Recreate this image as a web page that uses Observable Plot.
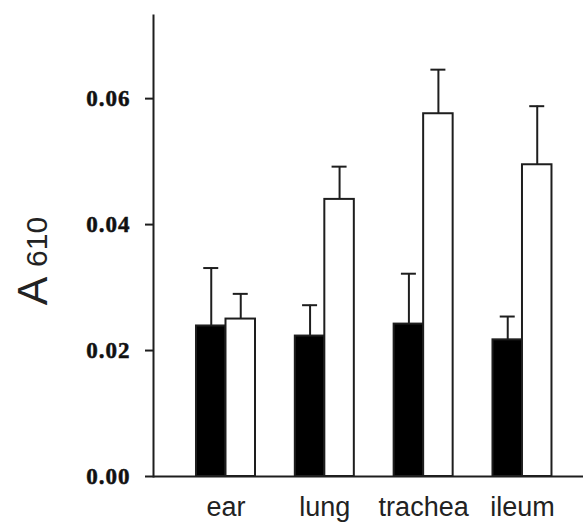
<!DOCTYPE html>
<html><head><meta charset="utf-8">
<script src="https://cdn.jsdelivr.net/npm/d3@7"></script>
<script src="https://cdn.jsdelivr.net/npm/@observablehq/plot@0.6"></script>
<style>
body{margin:0;background:#fff}
svg g[aria-label^="y-axis tick"] path, svg g[aria-label^="y-axis tick"] line,
svg [aria-label="frame"], svg g[aria-label="frame"] * , svg g[aria-label^="y-axis"] .domain {stroke-width: 2px !important; stroke: #1e1e1e !important;}
</style>
</head><body><div id="chart"></div>
<script>
const categories = ["ear", "lung", "trachea", "ileum"];
const controlMeans = [0.0239, 0.0223, 0.0242, 0.0217];
const controlErrors = [0.0092, 0.0049, 0.0080, 0.0037];
const treatedMeans = [0.0250, 0.0440, 0.0576, 0.0495];
const treatedErrors = [0.0040, 0.0052, 0.0070, 0.0093];
const yTicks = [0, 0.02, 0.04, 0.06];
const yLabelMain = "A ";
const yLabelSub = "610";

const rows = categories.map((c, i) => ({
  category: c,
  control: controlMeans[i], controlTop: controlMeans[i] + controlErrors[i],
  treated: treatedMeans[i], treatedTop: treatedMeans[i] + treatedErrors[i]
}));

const W = 583, H = 523, ML = 153, MR = 0, MT = 15, MB = 47;
const xOpts = {type: "band", domain: categories, paddingInner: 0.403, paddingOuter: 0.377, align: 0.577, round: false};
const xs = Plot.scale({x: {...xOpts, range: [ML, W - MR]}});
const bw = xs.bandwidth;
const half = bw / 2;
const capW = 15;
const capInset = (bw - capW) / 2;
const ink = "#1e1e1e";

const chart = Plot.plot({
  width: W, height: H,
  marginLeft: ML, marginRight: MR, marginTop: MT, marginBottom: MB,
  style: {background: "#fff", color: ink},
  x: {...xOpts, label: null, tickSize: 0, tickPadding: 20},
  y: {domain: [0, 0.0732], ticks: yTicks, tickFormat: d3.format(".2f"), tickSize: 8, tickPadding: 15, label: null, line: true},
  marks: [
    Plot.barY(rows, {x: "category", y: "control", fill: "black", stroke: ink, strokeWidth: 2, insetRight: half}),
    Plot.barY(rows, {x: "category", y: "treated", fill: "white", stroke: ink, strokeWidth: 2, insetLeft: half}),
    Plot.ruleX(rows, {x: "category", y1: "control", y2: "controlTop", dx: -bw / 4, stroke: ink, strokeWidth: 2}),
    Plot.tickY(rows, {x: "category", y: "controlTop", dx: -bw / 4, insetLeft: capInset, insetRight: capInset, stroke: ink, strokeWidth: 2}),
    Plot.ruleX(rows, {x: "category", y1: "treated", y2: "treatedTop", dx: bw / 4, stroke: ink, strokeWidth: 2}),
    Plot.tickY(rows, {x: "category", y: "treatedTop", dx: bw / 4, insetLeft: capInset, insetRight: capInset, stroke: ink, strokeWidth: 2}),
    Plot.ruleY([0], {stroke: ink, strokeWidth: 2})
  ]
});
document.getElementById("chart").appendChild(chart);

const svg = d3.select(chart.tagName === "svg" ? chart : chart.querySelector("svg"));
svg.selectAll('g[aria-label^="x-axis"]').each(function() {
  const g = d3.select(this);
  g.attr("font-family", "'Liberation Sans', Arial, sans-serif").attr("font-size", 27);
  g.selectAll("text").attr("font-family", "'Liberation Sans', Arial, sans-serif").attr("font-size", 27).attr("fill", "#222");
});
svg.selectAll('g[aria-label^="y-axis"]').each(function() {
  const g = d3.select(this);
  g.attr("font-family", "'Liberation Serif', 'Times New Roman', serif").attr("font-size", 23).attr("font-weight", "bold");
  g.selectAll("text").attr("font-family", "'Liberation Serif', 'Times New Roman', serif").attr("font-size", 23)
    .attr("font-weight", "bold").attr("letter-spacing", "1px").attr("fill", "#111")
    .attr("stroke", "#111").attr("stroke-width", 0.5);
});

const lab = svg.append("text")
  .attr("transform", "translate(47,261) rotate(-90)")
  .attr("text-anchor", "middle")
  .attr("font-family", "'Liberation Sans', Arial, sans-serif")
  .attr("fill", "#222");
lab.append("tspan").attr("font-size", 43).text(yLabelMain);
lab.append("tspan").attr("font-size", 30).text(yLabelSub);
</script>
</body></html>
